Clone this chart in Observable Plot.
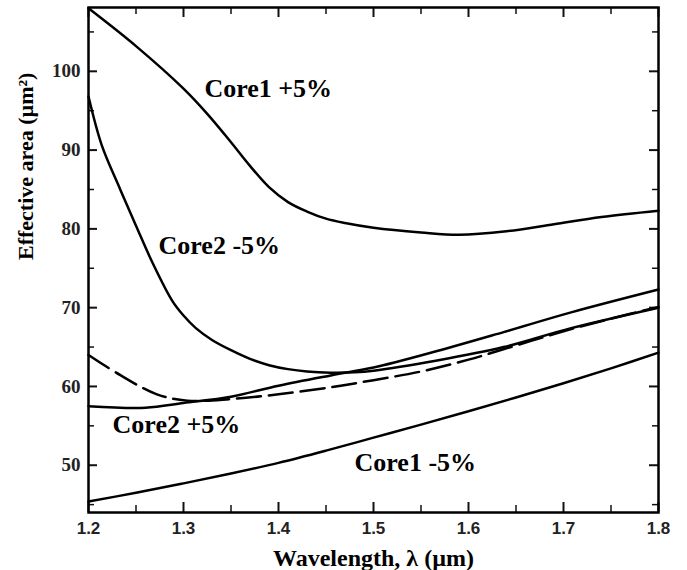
<!DOCTYPE html>
<html><head><meta charset="utf-8">
<script src="https://cdn.jsdelivr.net/npm/d3@7"></script>
<script src="https://cdn.jsdelivr.net/npm/@observablehq/plot@0.6"></script>
<style>body{margin:0;background:#fff}</style>
</head><body><div id="chart"></div>
<script>
// ---- data ----
const core1PlusX  = [1.20, 1.25, 1.30, 1.325, 1.35, 1.37, 1.39, 1.41, 1.43, 1.45, 1.47, 1.50, 1.55, 1.59, 1.64, 1.69, 1.74, 1.80];
const core1PlusY  = [108.0, 103.2, 97.8, 94.6, 91.0, 88.0, 85.3, 83.4, 82.2, 81.3, 80.75, 80.15, 79.55, 79.25, 79.7, 80.6, 81.5, 82.3];

const core2MinusX = [1.200, 1.214, 1.232, 1.250, 1.267, 1.288, 1.300, 1.313, 1.330, 1.350, 1.370, 1.390, 1.410, 1.430, 1.455, 1.480, 1.500, 1.567, 1.637, 1.708, 1.800];
const core2MinusY = [96.8, 90.6, 85.4, 80.4, 75.8, 70.9, 69.0, 67.4, 65.9, 64.6, 63.5, 62.7, 62.2, 61.9, 61.75, 61.8, 62.0, 63.3, 65.0, 67.4, 70.0];

const core2PlusX  = [1.20, 1.26, 1.30, 1.35, 1.40, 1.455, 1.50, 1.567, 1.637, 1.708, 1.80];
const core2PlusY  = [57.5, 57.3, 57.9, 58.7, 60.1, 61.4, 62.4, 64.5, 66.9, 69.4, 72.3];

const core1MinusX = [1.20, 1.25, 1.30, 1.35, 1.40, 1.45, 1.50, 1.55, 1.60, 1.65, 1.70, 1.75, 1.80];
const core1MinusY = [45.4, 46.5, 47.7, 48.95, 50.3, 51.85, 53.5, 55.15, 56.85, 58.6, 60.4, 62.3, 64.3];

const dashedX     = [1.20, 1.234, 1.272, 1.304, 1.35, 1.40, 1.455, 1.50, 1.55, 1.60, 1.65, 1.70, 1.75, 1.80];
const dashedY     = [64.0, 61.4, 59.0, 58.2, 58.4, 59.0, 59.9, 60.8, 61.9, 63.4, 65.2, 67.0, 68.6, 70.1];

const seriesNames = ["Core1 +5%", "Core2 -5%", "Core2 +5%", "Core1 -5%"];
const labelX      = [1.322, 1.2737, 1.2253, 1.480];
const labelY      = [97.75, 77.9, 55.13, 50.3];

const xTicks      = [1.2, 1.3, 1.4, 1.5, 1.6, 1.7, 1.8];
const xMinorTicks = [1.25, 1.35, 1.45, 1.55, 1.65, 1.75];
const yTicks      = [50, 60, 70, 80, 90, 100];
const yMinorTicks = [45, 55, 65, 75, 85, 95, 105];

const xTitle = "Wavelength, λ (µm)";
const yTitle = "Effective area (µm²)";

// ---- build tables ----
const toRows = (name, xs, ys) => xs.map((x, i) => ({series: name, x, y: ys[i]}));
const solidRows = [
  ...toRows(seriesNames[0], core1PlusX, core1PlusY),
  ...toRows(seriesNames[1], core2MinusX, core2MinusY),
  ...toRows(seriesNames[2], core2PlusX, core2PlusY),
  ...toRows(seriesNames[3], core1MinusX, core1MinusY)
];
const dashedRows = toRows("dashed", dashedX, dashedY);
const labels = seriesNames.map((s, i) => ({text: s, x: labelX[i], y: labelY[i]}));

const W = 687, H = 570;
const mL = 88, mR = 29, mT = 7, mB = 58;
const fw = W - mL - mR, fh = H - mT - mB;
const serif = "Liberation Serif, Times New Roman, serif";
const sans = "Liberation Sans, Arial, sans-serif";

const chart = Plot.plot({
  width: W, height: H,
  marginLeft: mL, marginRight: mR, marginTop: mT, marginBottom: mB,
  x: {domain: [1.2, 1.8], axis: null},
  y: {domain: [44, 108.1], axis: null},
  style: {background: "#fff", overflow: "visible"},
  marks: [
    // ticks (inward, on all four sides)
    Plot.tickX(xTicks, {x: d => d, insetTop: fh - 10, stroke: "#111", strokeWidth: 2}),
    Plot.tickX(xTicks, {x: d => d, insetBottom: fh - 10, stroke: "#111", strokeWidth: 2}),
    Plot.tickX(xMinorTicks, {x: d => d, insetTop: fh - 7, stroke: "#111", strokeWidth: 1.5}),
    Plot.tickX(xMinorTicks, {x: d => d, insetBottom: fh - 7, stroke: "#111", strokeWidth: 1.5}),
    Plot.tickY(yTicks, {y: d => d, insetRight: fw - 9, stroke: "#111", strokeWidth: 2}),
    Plot.tickY(yTicks, {y: d => d, insetLeft: fw - 9, stroke: "#111", strokeWidth: 2}),
    Plot.tickY(yMinorTicks, {y: d => d, insetRight: fw - 6, stroke: "#111", strokeWidth: 1.5}),
    Plot.tickY(yMinorTicks, {y: d => d, insetLeft: fw - 6, stroke: "#111", strokeWidth: 1.5}),
    // curves
    Plot.line(solidRows, {x: "x", y: "y", z: "series", stroke: "#000", strokeWidth: 2.5, curve: "catmull-rom"}),
    Plot.line(dashedRows, {x: "x", y: "y", stroke: "#000", strokeWidth: 2.5, strokeDasharray: "24,8", curve: "catmull-rom"}),
    // series labels
    Plot.text(labels, {x: "x", y: "y", text: "text", textAnchor: "start", fontFamily: serif, fontWeight: "bold", fontSize: 26, fill: "#000"}),
    // tick labels
    Plot.text(xTicks, {x: d => d, frameAnchor: "bottom", lineAnchor: "top", dy: 9, text: d => d.toFixed(1), fontFamily: sans, fontWeight: "bold", fontSize: 17, fill: "#222"}),
    Plot.text(yTicks, {y: d => d, frameAnchor: "left", textAnchor: "end", dx: -8, text: d => String(d), fontFamily: serif, fontWeight: "bold", fontSize: 19, fill: "#222"}),
    // axis titles
    Plot.text([xTitle], {frameAnchor: "bottom", lineAnchor: "bottom", dy: 53, text: d => d, fontFamily: serif, fontWeight: "bold", fontSize: 24, fill: "#000"}),
    Plot.text([yTitle], {frameAnchor: "left", rotate: -90, dx: -63, text: d => d, fontFamily: serif, fontWeight: "bold", fontSize: 22, fill: "#000"}),
    Plot.frame({stroke: "#000", strokeWidth: 2.5})
  ]
});
document.getElementById("chart").appendChild(chart);
</script></body></html>
